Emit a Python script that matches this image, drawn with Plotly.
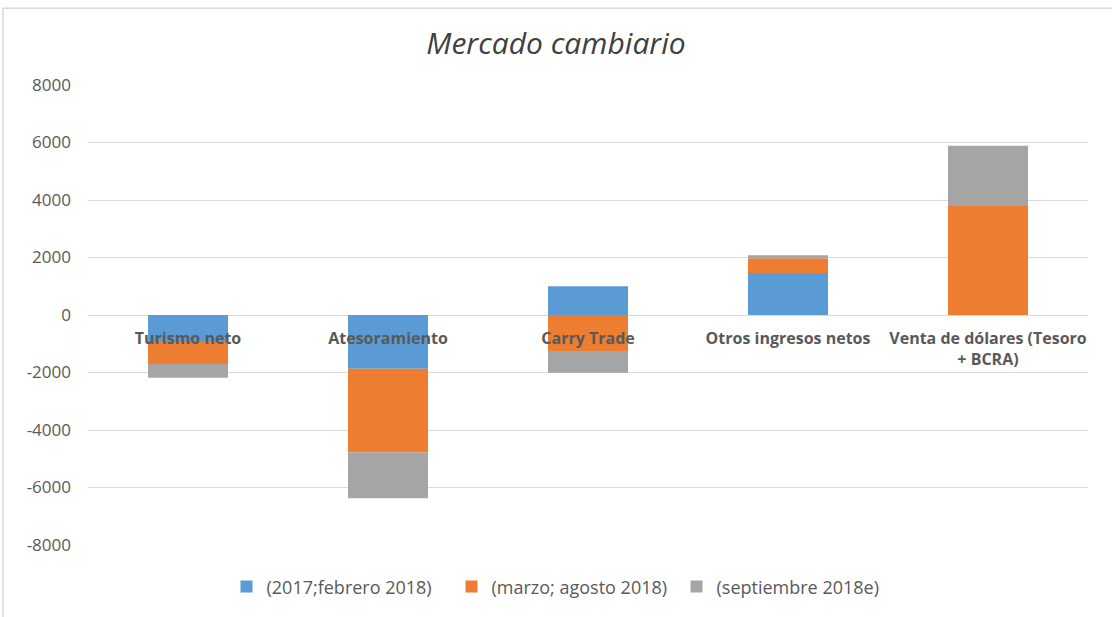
import plotly.graph_objects as go

categories = ["Turismo neto", "Atesoramiento", "Carry Trade", "Otros ingresos netos",
              "Venta de dólares (Tesoro<br>+ BCRA)"]
series_names = ["(2017;febrero 2018)", "(marzo; agosto 2018)", "(septiembre 2018e)"]
s_2017_feb = [-935, -1870, 1000, 1465, 0]
s_mar_ago = [-765, -2910, -1250, 510, 3790]
s_sep = [-480, -1590, -760, 100, 2100]
colors = ["#5b9bd5", "#ed7d31", "#a5a5a5"]
y_ticks = [-8000, -6000, -4000, -2000, 0, 2000, 4000, 6000, 8000]

W, H = 1112, 617
ml, mr, mt, mb = 88, 24, 85, 70

fig = go.Figure()
for name, vals, col in zip(series_names, [s_2017_feb, s_mar_ago, s_sep], colors):
    fig.add_trace(go.Bar(x=categories, y=vals, name=name, marker_color=col,
                         marker_line_width=0))

pw = W - ml - mr
ph = H - mt - mb
fig.update_layout(
    width=W, height=H,
    margin=dict(l=ml, r=mr, t=mt, b=mb),
    barmode="relative", bargap=0.6,
    paper_bgcolor="white", plot_bgcolor="white",
    font=dict(family="Open Sans, sans-serif", color="#595959"),
    title=dict(text="<i>Mercado cambiario</i>", x=0.5, xanchor="center",
               y=1 - 43 / H, yanchor="middle",
               font=dict(size=30, color="#404040", family="Open Sans, sans-serif")),
    xaxis=dict(anchor="free", position=0.5, showgrid=False, showline=False,
               ticks="", ticklabelstandoff=12,
               tickfont=dict(size=16, color="#595959",
                             family="Open Sans, sans-serif", weight="bold"),
               zeroline=False, fixedrange=True),
    yaxis=dict(range=[-8000, 8000], tickvals=y_ticks, ticktext=[str(v) for v in y_ticks],
               showgrid=True, gridcolor="#d9d9d9", gridwidth=1, zeroline=True,
               zerolinecolor="#d9d9d9", zerolinewidth=1,
               tickfont=dict(size=17, color="#595959", family="Open Sans, sans-serif"),
               ticks="", ticklabelstandoff=16),
    legend=dict(orientation="h", x=0.476, xanchor="center", y=-42 / ph, yanchor="middle",
                font=dict(size=18, color="#595959", family="Open Sans, sans-serif"),
                traceorder="normal", itemwidth=30, entrywidth=180, entrywidthmode="pixels"),
    showlegend=True,
)
# outer chart border
fig.add_shape(type="rect", xref="paper", yref="paper",
              x0=(3 - ml) / pw, x1=(W + 5 - ml) / pw,
              y0=(H - mb - (H + 5)) / ph, y1=(H - mb - 8) / ph,
              line=dict(color="#d9d9d9", width=1.5), fillcolor="rgba(0,0,0,0)", layer="below")

fig.write_html("out.html", config={"displayModeBar": False},
               post_script="document.body.style.margin='0';document.body.style.overflow='hidden';")
